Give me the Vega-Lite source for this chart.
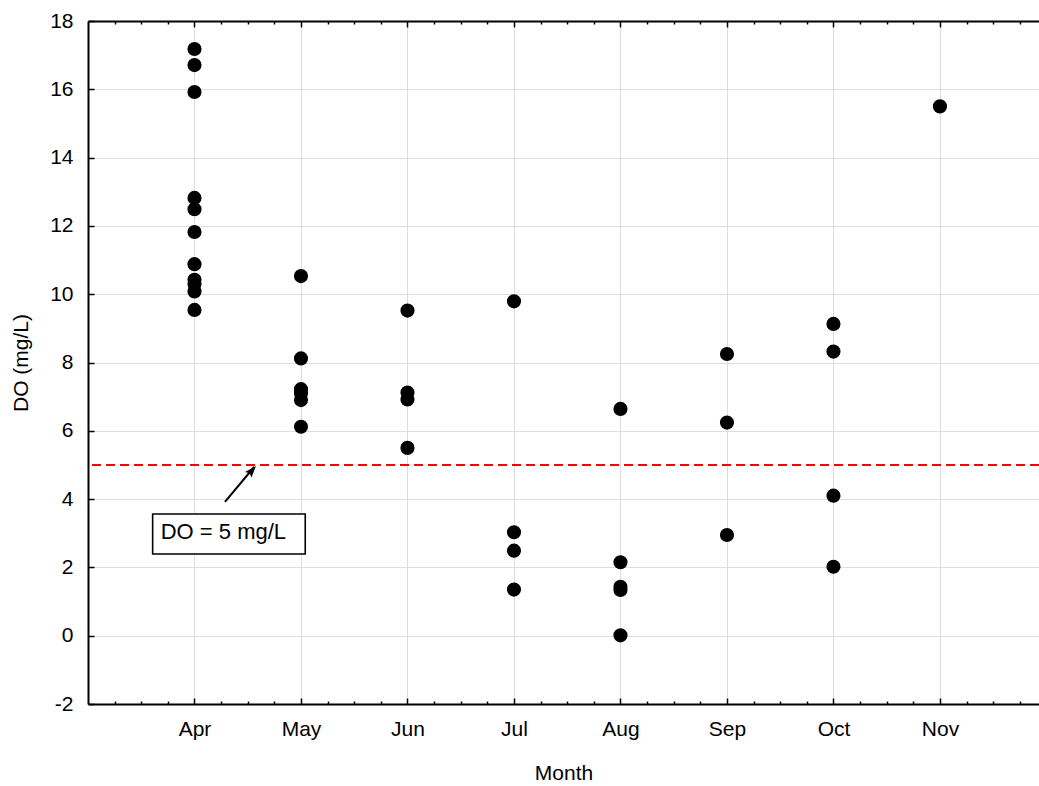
{
  "$schema": "https://vega.github.io/schema/vega-lite/v6.json",
  "width": 951,
  "height": 683,
  "autosize": {"type": "none"},
  "padding": {"left": 88, "top": 21, "right": 0, "bottom": 82},
  "background": "white",
  "config": {
    "font": "Liberation Sans",
    "view": {"stroke": null},
    "axis": {
      "domainColor": "black",
      "domainWidth": 2,
      "tickColor": "black",
      "tickWidth": 1.5,
      "gridColor": "#dddddd",
      "gridWidth": 1,
      "labelFont": "Liberation Sans",
      "labelFontSize": 21,
      "labelColor": "black",
      "titleFont": "Liberation Sans",
      "titleFontSize": 21,
      "titleFontWeight": "normal",
      "titleColor": "black"
    }
  },
  "datasets": {
    "do": [
      {"Month": 4, "DO": 17.18}, {"Month": 4, "DO": 16.71}, {"Month": 4, "DO": 15.92},
      {"Month": 4, "DO": 12.82}, {"Month": 4, "DO": 12.49}, {"Month": 4, "DO": 11.82},
      {"Month": 4, "DO": 10.88}, {"Month": 4, "DO": 10.42}, {"Month": 4, "DO": 10.3},
      {"Month": 4, "DO": 10.08}, {"Month": 4, "DO": 9.54},
      {"Month": 5, "DO": 10.53}, {"Month": 5, "DO": 8.12}, {"Month": 5, "DO": 7.22},
      {"Month": 5, "DO": 7.1}, {"Month": 5, "DO": 6.9}, {"Month": 5, "DO": 6.12},
      {"Month": 6, "DO": 9.52}, {"Month": 6, "DO": 7.12}, {"Month": 6, "DO": 6.92}, {"Month": 6, "DO": 5.5},
      {"Month": 7, "DO": 9.79}, {"Month": 7, "DO": 3.03}, {"Month": 7, "DO": 2.49}, {"Month": 7, "DO": 1.35},
      {"Month": 8, "DO": 6.64}, {"Month": 8, "DO": 2.15}, {"Month": 8, "DO": 1.43}, {"Month": 8, "DO": 1.34}, {"Month": 8, "DO": 0.01},
      {"Month": 9, "DO": 8.25}, {"Month": 9, "DO": 6.24}, {"Month": 9, "DO": 2.95},
      {"Month": 10, "DO": 9.13}, {"Month": 10, "DO": 8.32}, {"Month": 10, "DO": 4.1}, {"Month": 10, "DO": 2.02},
      {"Month": 11, "DO": 15.5}
    ]
  },
  "data": {"name": "do"},
  "layer": [
    {
      "mark": {"type": "circle", "size": 200, "color": "black", "opacity": 1},
      "encoding": {
        "x": {
          "field": "Month",
          "type": "quantitative",
          "scale": {"domain": [3, 11.93], "nice": false, "zero": false},
          "axis": {
            "orient": "bottom",
            "title": "Month",
            "titlePadding": 20,
            "values": [3.25, 3.5, 3.75, 4, 4.25, 4.5, 4.75, 5, 5.25, 5.5, 5.75, 6, 6.25, 6.5, 6.75, 7, 7.25, 7.5, 7.75, 8, 8.25, 8.5, 8.75, 9, 9.25, 9.5, 9.75, 10, 10.25, 10.5, 10.75, 11, 11.25, 11.5, 11.75],
            "labelExpr": "datum.value == 4 ? 'Apr' : datum.value == 5 ? 'May' : datum.value == 6 ? 'Jun' : datum.value == 7 ? 'Jul' : datum.value == 8 ? 'Aug' : datum.value == 9 ? 'Sep' : datum.value == 10 ? 'Oct' : datum.value == 11 ? 'Nov' : ''",
            "labelOverlap": false,
            "labelFlush": false,
            "labelPadding": 20,
            "grid": true,
            "gridOpacity": {"condition": {"test": "datum.value % 1 != 0", "value": 0}, "value": 1},
            "tickSize": {"condition": {"test": "datum.value % 1 != 0", "value": -3}, "value": -6}
          }
        },
        "y": {
          "field": "DO",
          "type": "quantitative",
          "scale": {"domain": [-2, 18], "nice": false, "zero": false},
          "axis": {
            "title": "DO (mg/L)",
            "titlePadding": 18,
            "values": [-2, -1, 0, 1, 2, 3, 4, 5, 6, 7, 8, 9, 10, 11, 12, 13, 14, 15, 16, 17, 18],
            "labelExpr": "datum.value % 2 === 0 ? '' + datum.value : ''",
            "labelOverlap": false,
            "labelFlush": false,
            "labelPadding": 21,
            "grid": true,
            "gridOpacity": {"condition": {"test": "datum.value % 2 !== 0", "value": 0}, "value": 1},
            "tickSize": {"condition": {"test": "datum.value % 2 !== 0", "value": -3}, "value": -6}
          }
        }
      }
    },
    {
      "mark": {"type": "point", "opacity": 0},
      "encoding": {
        "x": {
          "field": "Month",
          "type": "quantitative",
          "scale": {"domain": [3, 11.93], "nice": false, "zero": false},
          "axis": {
            "orient": "top",
            "title": null,
            "labels": false,
            "grid": false,
            "values": [3.25, 3.5, 3.75, 4, 4.25, 4.5, 4.75, 5, 5.25, 5.5, 5.75, 6, 6.25, 6.5, 6.75, 7, 7.25, 7.5, 7.75, 8, 8.25, 8.5, 8.75, 9, 9.25, 9.5, 9.75, 10, 10.25, 10.5, 10.75, 11, 11.25, 11.5, 11.75],
            "tickSize": {"condition": {"test": "datum.value % 1 != 0", "value": -3}, "value": -6}
          }
        },
        "y": {"field": "DO", "type": "quantitative"}
      }
    },
    {
      "data": {"values": [{}]},
      "mark": {"type": "rule", "color": "#ff0000", "strokeWidth": 2, "strokeDash": [9, 5]},
      "encoding": {"y": {"datum": 5, "type": "quantitative"}}
    },
    {
      "data": {"values": [{}]},
      "mark": {"type": "rule", "color": "black", "strokeWidth": 2},
      "encoding": {
        "x": {"datum": 4.286, "type": "quantitative", "scale": {"domain": [3, 11.93], "nice": false, "zero": false}, "axis": null},
        "y": {"datum": 3.92, "type": "quantitative"},
        "x2": {"datum": 4.56},
        "y2": {"datum": 4.94}
      }
    },
    {
      "data": {"values": [{}]},
      "mark": {"type": "point", "shape": "M0,0L-0.4,1.1L0,0.9L0.4,1.1Z", "size": 450, "filled": true, "color": "black", "opacity": 1, "angle": 41},
      "encoding": {
        "x": {"datum": 4.577, "type": "quantitative", "scale": {"domain": [3, 11.93], "nice": false, "zero": false}, "axis": null},
        "y": {"datum": 4.97, "type": "quantitative"}
      }
    },
    {
      "data": {"values": [{}]},
      "mark": {"type": "rect", "fill": "white", "stroke": "black", "strokeWidth": 1.6},
      "encoding": {
        "x": {"datum": 3.607, "type": "quantitative", "scale": {"domain": [3, 11.93], "nice": false, "zero": false}, "axis": null},
        "x2": {"datum": 5.04},
        "y": {"datum": 3.564, "type": "quantitative"},
        "y2": {"datum": 2.392}
      }
    },
    {
      "data": {"values": [{"label": "DO = 5 mg/L"}]},
      "mark": {"type": "text", "align": "left", "baseline": "alphabetic", "fontSize": 22, "font": "Liberation Sans", "color": "black"},
      "encoding": {
        "x": {"datum": 3.683, "type": "quantitative", "scale": {"domain": [3, 11.93], "nice": false, "zero": false}, "axis": null},
        "y": {"datum": 2.823, "type": "quantitative"},
        "text": {"field": "label"}
      }
    }
  ],
  "resolve": {"scale": {"x": "independent"}, "axis": {"x": "independent"}}
}
